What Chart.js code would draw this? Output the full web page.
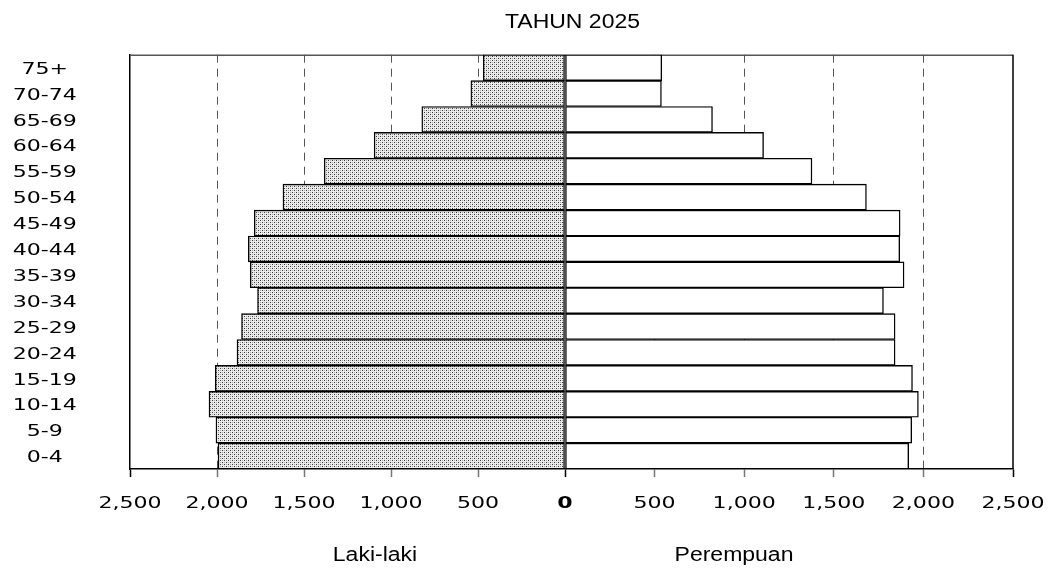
<!DOCTYPE html>
<html>
<head>
<meta charset="utf-8">
<style>
  html, body { margin: 0; padding: 0; background: #ffffff; }
  #wrap { position: relative; width: 1052px; height: 568px; }
</style>
<script src="https://cdn.jsdelivr.net/npm/chart.js@4.4.1/dist/chart.umd.min.js"></script>
</head>
<body>
<div id="wrap"><canvas id="c" width="1052" height="568"></canvas></div>
<script>
// ---------------- data ----------------
const chartTitle = 'TAHUN 2025';
const ageGroups = ['75+', '70-74', '65-69', '60-64', '55-59', '50-54', '45-49', '40-44',
                   '35-39', '30-34', '25-29', '20-24', '15-19', '10-14', '5-9', '0-4'];
const maleValues   = [470, 541, 823, 1097, 1384, 1621, 1786, 1820, 1809, 1767, 1859, 1885, 2010, 2046, 2006, 1994];
const femaleValues = [540, 538, 823, 1108, 1378, 1682, 1870, 1868, 1892, 1777, 1842, 1842, 1939, 1972, 1935, 1918];
const maleLabel = 'Laki-laki';
const femaleLabel = 'Perempuan';
const axisMin = -2500;
const axisMax = 2500;
const axisStep = 500;

// ---------------- split linear scale (left and right halves have their own pixel scale) ----------------
const ZERO_FRAC = 435 / 883;
class SplitScale extends Chart.LinearScale {
  getPixelForValue(value) {
    if (value === null || value === undefined || isNaN(value)) return NaN;
    const z = this.left + this.width * ZERO_FRAC;
    if (value < 0) return z - (value / this.min) * (z - this.left);
    return z + (value / this.max) * (this.right - z);
  }
  getValueForPixel(pixel) {
    const z = this.left + this.width * ZERO_FRAC;
    if (pixel < z) return this.min * (z - pixel) / (z - this.left);
    return this.max * (pixel - z) / (this.right - z);
  }
}
SplitScale.id = 'split';
SplitScale.defaults = Chart.LinearScale.defaults;
Chart.register(SplitScale);

// ---------------- stipple pattern for the male bars ----------------
function makePattern() {
  const p = document.createElement('canvas');
  p.width = 4; p.height = 4;
  const g = p.getContext('2d');
  g.fillStyle = '#ebebeb';
  g.fillRect(0, 0, 4, 4);
  g.fillStyle = '#3a3a3a';
  g.fillRect(0, 0, 1, 1);
  g.fillRect(2, 2, 1, 1);
  g.fillStyle = '#aaaaaa';
  g.fillRect(2, 0, 1, 1);
  g.fillRect(0, 2, 1, 1);
  return document.getElementById('c').getContext('2d').createPattern(p, 'repeat');
}

const tickFont = { family: '"DejaVu Sans", Verdana, sans-serif', size: 16 };

// draw text horizontally stretched around its anchor point
function withStretch(ctx, sx, fn) {
  const orig = ctx.fillText;
  ctx.fillText = function (text, x, y) {
    this.save();
    this.translate(x, y);
    this.scale(sx, 1);
    orig.call(this, text, 0, 0);
    this.restore();
  };
  try { fn(); } finally { ctx.fillText = orig; }
}

const stylePlugin = {
  id: 'style',
  beforeDraw(chart) {
    ['x', 'y'].forEach(id => {
      const s = chart.scales[id];
      if (!s || s._stretched) return;
      const orig = s.drawLabels.bind(s);
      s.drawLabels = function (area) {
        withStretch(this.ctx, 1.38, () => orig(area));
      };
      s._stretched = true;
    });
  },
  beforeDatasetsDraw(chart) {
    const { ctx, chartArea: a } = chart;
    ctx.save();
    ctx.lineWidth = 1.5;
    ctx.strokeStyle = '#555555';
    ctx.beginPath();
    ctx.moveTo(a.left, a.top + 0.5);
    ctx.lineTo(a.right, a.top + 0.5);
    ctx.stroke();
    ctx.strokeStyle = '#000000';
    ctx.beginPath();
    ctx.moveTo(a.right, a.top);
    ctx.lineTo(a.right, a.bottom);
    ctx.stroke();
    ctx.restore();
  },
  afterDraw(chart) {
    const { ctx, chartArea: a } = chart;
    ctx.save();
    ctx.fillStyle = '#000000';
    ctx.textBaseline = 'alphabetic';
    ctx.textAlign = 'center';
    ctx.font = '20px "Liberation Sans", Arial, sans-serif';
    withStretch(ctx, 1.15, () => {
      ctx.fillText(chartTitle, (a.left + a.right) / 2 + 1, 27.5);
      ctx.fillText(maleLabel, 375, 561);
      ctx.fillText(femaleLabel, 734, 561);
    });
    ctx.restore();
  }
};

const isEdge = v => v === 0 || Math.abs(v) === axisMax;

new Chart(document.getElementById('c'), {
  type: 'bar',
  data: {
    labels: ageGroups,
    datasets: [
      {
        label: maleLabel,
        data: maleValues.map(v => -v),
        backgroundColor: makePattern(),
        borderColor: '#000000',
        borderWidth: 1.4,
        borderSkipped: false,
        barPercentage: 1,
        categoryPercentage: 1
      },
      {
        label: femaleLabel,
        data: femaleValues,
        backgroundColor: '#ffffff',
        borderColor: '#000000',
        borderWidth: 1.4,
        borderSkipped: false,
        barPercentage: 1,
        categoryPercentage: 1
      }
    ]
  },
  options: {
    indexAxis: 'y',
    responsive: false,
    animation: false,
    devicePixelRatio: 1,
    layout: { padding: { top: 54.7, right: 39, bottom: 0, left: 0 } },
    plugins: {
      legend: { display: false },
      title: { display: false },
      tooltip: { enabled: false }
    },
    scales: {
      x: {
        type: 'split',
        stacked: true,
        min: axisMin,
        max: axisMax,
        afterFit(scale) { scale.height = 99; scale.paddingLeft = 0; scale.paddingRight = 0; },
        ticks: {
          stepSize: axisStep,
          autoSkip: false,
          maxRotation: 0,
          padding: 17,
          color: '#000000',
          font: c => (c.tick && c.tick.value === 0)
            ? Object.assign({}, tickFont, { weight: 'bold' })
            : tickFont,
          callback: v => Math.abs(v).toLocaleString('en-US')
        },
        grid: {
          display: true,
          drawOnChartArea: true,
          drawTicks: true,
          tickLength: 8,
          tickWidth: 1.5,
          tickBorderDash: [],
          lineWidth: 1,
          color: c => (c.tick && isEdge(c.tick.value)) ? 'rgba(0,0,0,0)' : '#555555',
          tickColor: c => (c.tick && isEdge(c.tick.value)) ? '#000000' : '#777777'
        },
        border: { display: true, color: '#000000', width: 1.5, dash: [8, 6] }
      },
      y: {
        stacked: true,
        afterFit(scale) { scale.width = 130; scale.paddingTop = 0; scale.paddingBottom = 0; },
        ticks: {
          padding: 62,
          crossAlign: 'center',
          labelOffset: 2,
          color: '#000000',
          font: tickFont
        },
        grid: { display: false, drawTicks: false },
        border: { display: true, color: '#000000', width: 1.5 }
      }
    }
  },
  plugins: [stylePlugin]
});
</script>
</body>
</html>
